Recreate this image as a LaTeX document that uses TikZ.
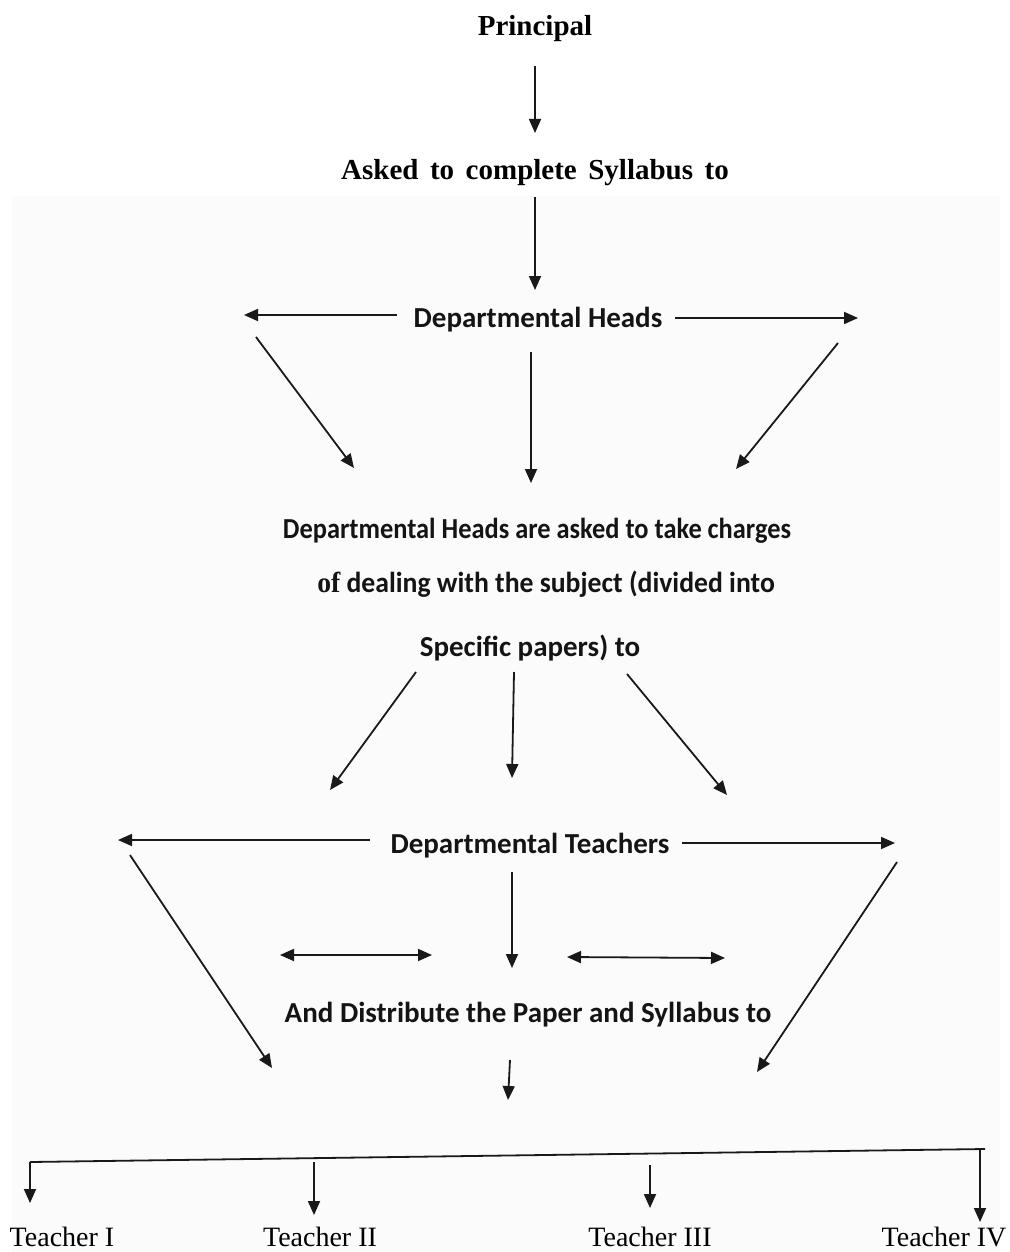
\documentclass[tikz,border=0pt]{standalone}
\usepackage{fontspec}
\usepackage{graphicx}
\setmainfont{Liberation Serif}
\newfontfamily\calfont{Carlito}
\usetikzlibrary{arrows.meta}

\begin{document}
\begin{tikzpicture}[x=1pt,y=-1pt,
  line/.style={line width=1.8pt, draw=black!90},
  arr/.style={line, -{Triangle[length=14pt,width=12pt]}},
  darr/.style={line, {Triangle[length=14pt,width=12pt]}-{Triangle[length=14pt,width=12pt]}},
  serifhead/.style={font=\fontsize{29}{34}\selectfont\bfseries, anchor=base, inner sep=0pt},
  sanshead/.style={font=\calfont\fontsize{29}{34}\selectfont\bfseries, anchor=base, inner sep=0pt, text=black!92},
  teacher/.style={font=\fontsize{28}{33}\selectfont, anchor=base, inner sep=0pt}]

\useasboundingbox (0,0) rectangle (1009,1252);
\fill[black!1.5] (12,196) rectangle (1000,1252);

% text blocks
\node[serifhead] (principal) at (535,36) {Principal};
\node[serifhead] (asked) at (535,179) {\spaceskip=11.5pt Asked to complete Syllabus to};
\node[sanshead] (dh) at (538,327) {Departmental Heads};
\node[sanshead] (dh1) at (537,538) {\scalebox{0.91}[1]{Departmental Heads are asked to take charges}};
\node[sanshead] (dh2) at (546,592) {\scalebox{0.955}[1]{{\rmfamily of}\ dealing with the subject (divided into}};
\node[sanshead] (dh3) at (530,656) {Specific papers) to};
\node[sanshead] (dt) at (530,853) {Departmental Teachers};
\node[sanshead] (dist) at (528,1022) {And Distribute the Paper and Syllabus to};
\node[teacher] (t1) at (62,1246) {Teacher I};
\node[teacher] (t2) at (320,1246) {Teacher II};
\node[teacher] (t3) at (650,1246) {Teacher III};
\node[teacher] (t4) at (944,1246) {Teacher IV};

% connector end points
\coordinate (p1) at (535,66);   \coordinate (p2) at (535,133);
\coordinate (a1) at (535,197);  \coordinate (a2) at (535,290);
\coordinate (hl1) at (397,315); \coordinate (hl2) at (244,315);
\coordinate (hr1) at (675,318); \coordinate (hr2) at (858,318);
\coordinate (d1s) at (256,337); \coordinate (d1e) at (354,468);
\coordinate (d2s) at (531,352); \coordinate (d2e) at (531,483);
\coordinate (d3s) at (838,343); \coordinate (d3e) at (736,469);
\coordinate (e1s) at (416,672); \coordinate (e1e) at (330,790);
\coordinate (e2s) at (514,672); \coordinate (e2e) at (512,778);
\coordinate (e3s) at (627,674); \coordinate (e3e) at (727,795);
\coordinate (tl1) at (370,840); \coordinate (tl2) at (118,840);
\coordinate (tr1) at (682,843); \coordinate (tr2) at (895,843);
\coordinate (ls) at (130,855);  \coordinate (le) at (272,1068);
\coordinate (rs) at (897,862);  \coordinate (re) at (757,1072);
\coordinate (ms) at (512,872);  \coordinate (me) at (512,968);
\coordinate (x1a) at (280,955); \coordinate (x1b) at (432,955);
\coordinate (x2a) at (567,957); \coordinate (x2b) at (725,958);
\coordinate (bs) at (510,1060); \coordinate (be) at (508,1100);
\coordinate (barL) at (30,1162); \coordinate (barR) at (985,1149);
\coordinate (v1s) at (30,1162);  \coordinate (v1e) at (30,1203);
\coordinate (v2s) at (314,1162); \coordinate (v2e) at (314,1215);
\coordinate (v3s) at (650,1165); \coordinate (v3e) at (650,1208);
\coordinate (v4s) at (980,1150); \coordinate (v4e) at (980,1222);

% connectors
\draw[arr] (p1) -- (p2);
\draw[arr] (a1) -- (a2);
\draw[arr] (hl1) -- (hl2);
\draw[arr] (hr1) -- (hr2);
\draw[arr] (d1s) -- (d1e);
\draw[arr] (d2s) -- (d2e);
\draw[arr] (d3s) -- (d3e);
\draw[arr] (e1s) -- (e1e);
\draw[arr] (e2s) -- (e2e);
\draw[arr] (e3s) -- (e3e);
\draw[arr] (tl1) -- (tl2);
\draw[arr] (tr1) -- (tr2);
\draw[arr] (ls) -- (le);
\draw[arr] (rs) -- (re);
\draw[arr] (ms) -- (me);
\draw[darr] (x1a) -- (x1b);
\draw[darr] (x2a) -- (x2b);
\draw[arr] (bs) -- (be);
\draw[line] (barL) -- (barR);
\draw[arr] (v1s) -- (v1e);
\draw[arr] (v2s) -- (v2e);
\draw[arr] (v3s) -- (v3e);
\draw[arr] (v4s) -- (v4e);
\end{tikzpicture}
\end{document}
